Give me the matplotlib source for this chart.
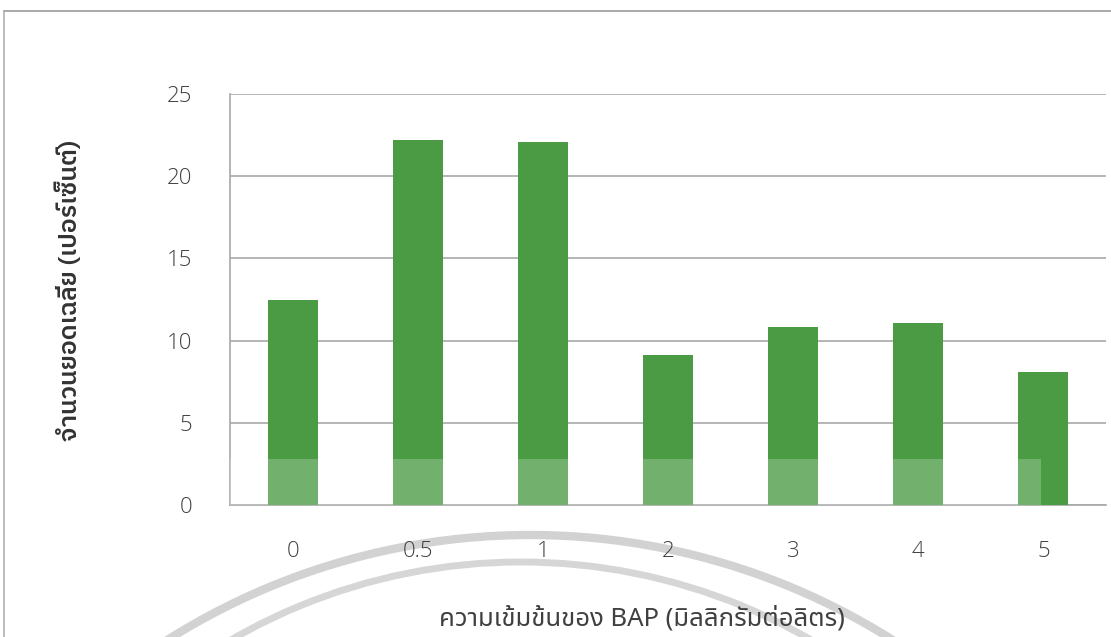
import matplotlib
matplotlib.use("Agg")
import matplotlib.pyplot as plt
from matplotlib.patches import Arc
from matplotlib.lines import Line2D

# ---- data ----
categories = ["0", "0.5", "1", "2", "3", "4", "5"]
shoots = [12.5, 22.2, 22.1, 9.1, 10.8, 11.1, 8.1]
y_ticks = [0, 5, 10, 15, 20, 25]
x_label = "ความเข้มข้นของ BAP (มิลลิกรัมต่อลิตร)"
y_label = "จำนวนยอดเฉลี่ย (เปอร์เซ็นต์)"

THAI = ['Noto Sans', 'Noto Sans Thai', 'DejaVu Sans']
THAI_BOLD = ['IBM Plex Sans Thai', 'Noto Sans Thai', 'DejaVu Sans']
plt.rcParams['font.family'] = THAI

fig = plt.figure(figsize=(11.11, 6.37), dpi=100)

# background decoration layer (pixel coordinates)
bg = fig.add_axes([0, 0, 1, 1], zorder=0)
bg.set_xlim(0, 1111)
bg.set_ylim(637, 0)
bg.axis('off')
bg.add_patch(Arc((530, 1214), 2 * 679, 2 * 679, theta1=0, theta2=360,
                 color='#d2d2d2', lw=6))
bg.add_patch(Arc((521, 1141), 2 * 579, 2 * 579, theta1=0, theta2=360,
                 color='#d6d6d6', lw=5))
# frame lines of the scanned chart border
bg.add_line(Line2D([4, 1111], [11, 11], color='#9a9a9a', lw=1.2))
bg.add_line(Line2D([4, 4], [11, 637], color='#b0b0b0', lw=1.2))

ax = fig.add_axes([230 / 1111, 1 - 505 / 637, 876 / 1111, 411 / 637], zorder=1)
ax.patch.set_alpha(0)

x = list(range(len(categories)))
ax.bar(x, shoots, width=0.4, color='#4b9a44', zorder=3)
# lighter bottom band from the scan
ax.axhspan(0, 2.8, xmin=0, xmax=0.926, color='white', alpha=0.22, lw=0, zorder=4)

ax.set_xlim(-0.5, len(categories) - 0.5)
ax.set_ylim(0, 25)
ax.set_yticks(y_ticks)
ax.set_xticks(x)
ax.set_xticklabels(categories)
ax.yaxis.grid(True, color='#a8a8a8', lw=1.2, zorder=0)
ax.set_axisbelow(True)
for s in ['top', 'right']:
    ax.spines[s].set_visible(False)
ax.spines['left'].set_color('#a8a8a8')
ax.spines['bottom'].set_color('#a8a8a8')
ax.spines['left'].set_linewidth(1.2)
ax.spines['bottom'].set_linewidth(1.2)

ax.tick_params(axis='both', length=0, labelsize=16, labelcolor='#404040')
ax.tick_params(axis='y', pad=27)
ax.tick_params(axis='x', pad=26)
for lab in ax.get_xticklabels() + ax.get_yticklabels():
    lab.set_fontfamily(['Open Sans', 'DejaVu Sans'])
    lab.set_fontweight('light')

ax.set_xlabel(x_label, fontsize=18.5, color='#404040', family=THAI)
ax.xaxis.set_label_coords(0.470, -0.246)
ax.set_ylabel(y_label, fontsize=18, fontweight='semibold', color='#333333', family=THAI_BOLD)
ax.yaxis.set_label_coords(-0.169, 0.523)

fig.savefig('out.png', dpi=100, facecolor='white')
